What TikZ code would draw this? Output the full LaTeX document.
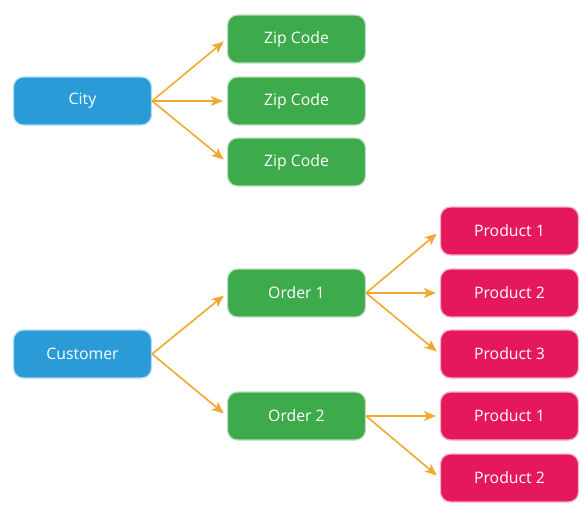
\documentclass[tikz,border=0pt]{standalone}
\usepackage{fontspec}
\setmainfont{Open Sans}
\usetikzlibrary{arrows.meta}
\definecolor{cityblue}{HTML}{2A9BD7}
\definecolor{ordergreen}{HTML}{3DAA4B}
\definecolor{productred}{HTML}{E4185B}
\definecolor{linkorange}{HTML}{F0A832}
\begin{document}
\begin{tikzpicture}[x=1pt,y=-1pt,font=\fontsize{15.8}{19}\selectfont,
		box/.style={rounded corners=10pt,minimum width=138pt,minimum height=48pt,text=white,line width=1.2pt},
		bluebox/.style={box,fill=cityblue,draw=cityblue!35!white},
		greenbox/.style={box,fill=ordergreen,draw=ordergreen!35!white},
		redbox/.style={box,fill=productred,draw=productred!35!white},
		link/.style={draw=linkorange,line width=1.6pt,shorten >=4pt,-{Stealth[length=12pt,width=10pt,inset=3pt]}}]
		\useasboundingbox (0,0) rectangle (588,514);
		% city and its zip codes
		\node[bluebox] (city) at (82.5,101) {City};
		\node[greenbox] (zip1) at (296.5,39) {Zip Code};
		\node[greenbox] (zip2) at (296.5,101) {Zip Code};
		\node[greenbox] (zip3) at (296.5,162) {Zip Code};
		% customer, orders and products
		\node[bluebox] (customer) at (82.5,354) {Customer};
		\node[greenbox] (order1) at (296.5,293) {Order 1};
		\node[greenbox] (order2) at (296.5,416) {Order 2};
		\node[redbox] (prod11) at (509.5,231) {Product 1};
		\node[redbox] (prod12) at (509.5,293) {Product 2};
		\node[redbox] (prod13) at (509.5,354) {Product 3};
		\node[redbox] (prod21) at (509.5,416) {Product 1};
		\node[redbox] (prod22) at (509.5,478) {Product 2};
		\foreach \z in {zip1,zip2,zip3}
			\draw[link] (city.east) -- (\z.west);
		\foreach \o in {order1,order2}
			\draw[link] (customer.east) -- (\o.west);
		\foreach \p in {prod11,prod12,prod13}
			\draw[link] (order1.east) -- (\p.west);
		\foreach \p in {prod21,prod22}
			\draw[link] (order2.east) -- (\p.west);
\end{tikzpicture}
\end{document}
